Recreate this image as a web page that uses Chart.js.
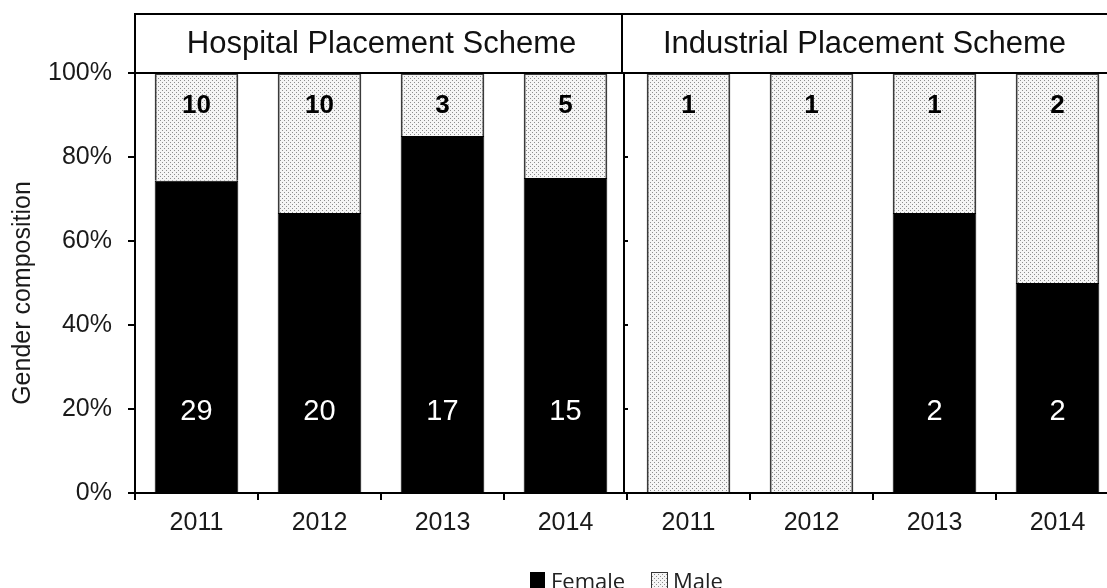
<!DOCTYPE html>
<html>
<head>
<meta charset="utf-8">
<title>Gender composition by placement scheme</title>
<script src="https://cdn.jsdelivr.net/npm/chart.js@4"></script>
<style>
  html, body { margin: 0; padding: 0; background: #fff; overflow: hidden; }
  canvas { display: block; }
</style>
</head>
<body>
<canvas id="chart" width="1125" height="588"></canvas>
<script>
// data (head counts per year)
const schemes = ['Hospital Placement Scheme', 'Industrial Placement Scheme'];
const years = ['2011', '2012', '2013', '2014'];
const categories = years.concat(years);
const femaleCounts = [29, 20, 17, 15, 0, 0, 2, 2];
const maleCounts = [10, 10, 3, 5, 1, 1, 1, 2];
const yTicks = [0, 20, 40, 60, 80, 100];
const yTitle = 'Gender composition';

// 100% stacked -> shares of each bar
const femaleShare = femaleCounts.map((f, i) => f / (f + maleCounts[i]) * 100);
const maleShare = maleCounts.map((m, i) => m / (femaleCounts[i] + m) * 100);

// light dotted fill used for the male segments
function stipple() {
  const t = document.createElement('canvas');
  t.width = 4; t.height = 4;
  const c = t.getContext('2d');
  c.fillStyle = '#f5f5f5'; c.fillRect(0, 0, 4, 4);
  c.fillStyle = '#8e8e8e';
  c.fillRect(0, 0, 1, 1);
  c.fillRect(2, 2, 1, 1);
  return document.getElementById('chart').getContext('2d').createPattern(t, 'repeat');
}
const dots = stipple();

const FONT = '"Liberation Sans", Arial, sans-serif';

const decorations = {
  id: 'decorations',
  afterDraw(chart) {
    const { ctx, chartArea: a, scales: { x, y } } = chart;
    const mid = (x.getPixelForValue(3) + x.getPixelForValue(4)) / 2 - 3;
    ctx.save();

    // divider axis between the two schemes
    ctx.strokeStyle = '#000'; ctx.lineWidth = 2;
    ctx.beginPath(); ctx.moveTo(mid, a.top); ctx.lineTo(mid, a.bottom); ctx.stroke();
    yTicks.forEach((v) => {
      const py = y.getPixelForValue(v);
      ctx.beginPath(); ctx.moveTo(mid, py); ctx.lineTo(mid + 4, py); ctx.stroke();
    });

    // header strip with the scheme names
    const top = 14;
    ctx.strokeRect(a.left, top, 1110 - a.left, a.top - top);
    ctx.beginPath(); ctx.moveTo(mid - 2, top); ctx.lineTo(mid - 2, a.top); ctx.stroke();
    ctx.fillStyle = '#111';
    ctx.font = '31px ' + FONT;
    ctx.textAlign = 'center'; ctx.textBaseline = 'middle';
    ctx.fillText(schemes[0], (a.left + mid) / 2 + 2, (top + a.top) / 2 + 1);
    ctx.fillText(schemes[1], (mid + 1105) / 2, (top + a.top) / 2 + 1);

    // y axis title
    ctx.save();
    ctx.translate(23, 293);
    ctx.rotate(-Math.PI / 2);
    ctx.fillStyle = '#1a1a1a';
    ctx.font = '25px ' + FONT;
    ctx.fillText(yTitle, 0, 0);
    ctx.restore();

    // counts inside the bars
    categories.forEach((_, i) => {
      const cx = x.getPixelForValue(i);
      ctx.fillStyle = '#000';
      ctx.font = 'bold 26px ' + FONT;
      ctx.fillText(String(maleCounts[i]), cx, y.getPixelForValue(92.2));
      if (femaleCounts[i] > 0) {
        ctx.fillStyle = '#fff';
        ctx.font = '29px ' + FONT;
        ctx.fillText(String(femaleCounts[i]), cx, y.getPixelForValue(19.2));
      }
    });

    // legend
    ctx.textAlign = 'left'; ctx.textBaseline = 'alphabetic';
    ctx.font = '22px "Open Sans", sans-serif';
    ctx.fillStyle = '#000';
    ctx.fillRect(530, 572, 15, 17);
    ctx.fillStyle = '#222';
    ctx.fillText('Female', 551, 589);
    ctx.fillStyle = dots;
    ctx.fillRect(651, 572, 16, 17);
    ctx.strokeStyle = '#333'; ctx.lineWidth = 1;
    ctx.strokeRect(651.5, 572.5, 16, 17);
    ctx.fillStyle = '#222';
    ctx.fillText('Male', 673, 589);
    ctx.restore();
  }
};

new Chart(document.getElementById('chart'), {
  type: 'bar',
  data: {
    labels: categories,
    datasets: [
      { label: 'Female', data: femaleShare, backgroundColor: '#000', borderColor: '#000', borderWidth: 1 },
      { label: 'Male', data: maleShare, backgroundColor: dots, borderColor: '#3a3a3a', borderWidth: 2 }
    ]
  },
  options: {
    responsive: false,
    animation: false,
    devicePixelRatio: 1,
    layout: { padding: { top: 73, right: 6, left: 0, bottom: 0 } },
    datasets: { bar: { categoryPercentage: 1, barPercentage: 0.68 } },
    plugins: { legend: { display: false }, tooltip: { enabled: false } },
    scales: {
      x: {
        stacked: true,
        afterFit: (s) => { s.height = 95; },
        grid: { offset: true, drawOnChartArea: false, drawTicks: true, tickLength: 7, color: '#000', lineWidth: 2 },
        border: { color: '#000', width: 2 },
        ticks: { color: '#1a1a1a', font: { family: FONT, size: 25 }, padding: 8, maxRotation: 0 }
      },
      y: {
        stacked: true,
        min: 0, max: 100,
        afterFit: (s) => { s.width = 135; },
        afterBuildTicks: (s) => { s.ticks = yTicks.map((v) => ({ value: v })); },
        grid: { drawOnChartArea: false, drawTicks: true, tickLength: 7, color: '#000', lineWidth: 2 },
        border: { color: '#000', width: 2 },
        ticks: { color: '#1a1a1a', font: { family: FONT, size: 25 }, padding: 16, callback: (v) => v + '%' }
      }
    }
  },
  plugins: [decorations]
});
</script>
</body>
</html>
